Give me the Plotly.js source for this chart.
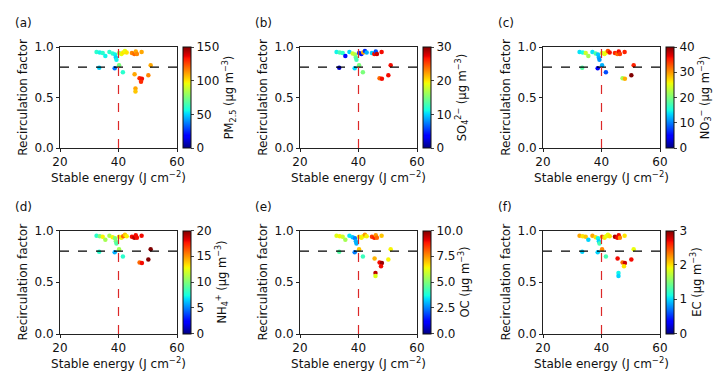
<!DOCTYPE html>
<html><head><meta charset="utf-8">
<script src="https://cdn.plot.ly/plotly-3.0.1.min.js"></script>
<style>html,body{margin:0;padding:0;background:#fff}#chart{width:725px;height:385px}</style>
</head><body><div id="chart"></div>
<script>
// Stable energy (J cm^-2) and recirculation factor for each day
const stableEnergy = [32.5,33.6,34.6,35.5,36.9,38.0,38.8,39.1,39.3,40.2,41.0,41.6,42.2,42.8,44.6,45.4,45.9,46.3,47.9,
  33.4,38.7,40.2,41.5,51.0,45.5,50.2,47.2,48.0,47.7,45.8,45.8];
const recircFactor = [0.95,0.945,0.94,0.91,0.95,0.935,0.925,0.895,0.875,0.94,0.93,0.945,0.96,0.945,0.94,0.93,0.955,0.93,0.95,
  0.795,0.79,0.82,0.75,0.82,0.73,0.72,0.69,0.685,0.655,0.59,0.56];
// Colour variables (µg m^-3); null = not available
const pm25 = [60,55,60,55,60,60,55,50,55,80,95,100,95,100,115,120,110,115,110,50,35,75,60,110,110,115,130,135,130,110,105];
const so4  = [11,13,12,4,10,18,17,14,13,5,4,22,5,9,10,27,6,28,27,2,10,15,15,27,null,27,24,27,null,null,null];
const no3  = [14,15,24,22,14,18,13,12,11,24,25,26,33,36,35,32,36,34,35,18,5,12,8,35,null,40,22,29,null,null,null];
const nh4  = [8,10,13,11,11,13,10,10,9,13,13,16,14,13,18,19,18,18,18,8,6,11,8,20,null,20,16,18,null,null,null];
const oc   = [6.2,6.5,6.0,5.5,3.5,3.2,2.5,3.0,3.0,6.5,6.5,6.5,7.5,6.5,8.5,8.8,7.5,8.0,7.0,4.5,2.5,7.0,4.2,6.5,7.2,6.5,9.0,9.8,9.0,9.5,6.2];
const ec   = [2.2,2.0,2.1,1.0,2.2,2.0,1.1,1.0,1.3,2.3,2.0,1.9,1.9,2.0,2.9,2.7,2.7,2.3,2.0,1.0,1.0,2.3,1.3,1.9,2.7,2.7,2.4,2.8,2.0,1.1,1.0];

const panelLabels = ['(a)','(b)','(c)','(d)','(e)','(f)'];
const colorTitles = ['PM<sub>2.5</sub> (μg m<sup>−3</sup>)','SO<sub>4</sub><sup>2−</sup> (μg m<sup>−3</sup>)',
  'NO<sub>3</sub><sup>−</sup> (μg m<sup>−3</sup>)','NH<sub>4</sub><sup>+</sup> (μg m<sup>−3</sup>)',
  'OC (μg m<sup>−3</sup>)','EC (μg m<sup>−3</sup>)'];
const colorMax = [150,30,40,20,10,3];
const colorTicks = [[0,50,100,150],[0,10,20,30],[0,10,20,30,40],[0,5,10,15,20],[0,2.5,5,7.5,10],[0,1,2,3]];
const colorTickText = [null,null,null,null,['0.0','2.5','5.0','7.5','10.0'],null];
const series = [pm25,so4,no3,nh4,oc,ec];
const rfThreshold = 0.8, seThreshold = 40;

const jet = [[0,'rgb(0,0,128)'],[0.11,'rgb(0,0,255)'],[0.125,'rgb(0,0,255)'],[0.34,'rgb(0,219,255)'],
  [0.375,'rgb(21,255,226)'],[0.5,'rgb(123,255,123)'],[0.64,'rgb(239,255,8)'],[0.66,'rgb(255,236,0)'],
  [0.89,'rgb(255,19,0)'],[0.91,'rgb(232,0,0)'],[1,'rgb(128,0,0)']];

const W=725,H=385;
const colL=[60,300,543], plotW=117;
const rowT=[47,230.5], plotH=[101,103.5];
const font={family:'DejaVu Sans, sans-serif',size:12,color:'#111'};
const sfont={family:'DejaVu Sans, sans-serif',size:11.5,color:'#111'};
const traces=[], layout={width:W,height:H,margin:{l:0,r:0,t:0,b:0},showlegend:false,
  paper_bgcolor:'#fff',plot_bgcolor:'#fff',font:font,shapes:[],annotations:[]};

for(let i=0;i<6;i++){
  const r=Math.floor(i/3), c=i%3, n=i+1;
  const xa='xaxis'+(n>1?n:''), ya='yaxis'+(n>1?n:'');
  const xr='x'+(n>1?n:''), yr='y'+(n>1?n:'');
  const x0=colL[c]/W, x1=(colL[c]+plotW)/W;
  const yTop=1-rowT[r]/H, yBot=1-(rowT[r]+plotH[r])/H;
  const xs=[],ys=[],cs=[];
  series[i].forEach((v,k)=>{ if(v!==null){xs.push(stableEnergy[k]);ys.push(recircFactor[k]);cs.push(v);} });
  traces.push({type:'scatter',mode:'markers',x:xs,y:ys,xaxis:xr,yaxis:yr,
    marker:{size:4.5,color:cs,cmin:0,cmax:colorMax[i],colorscale:jet,line:{width:0},
      colorbar:{x:(colL[c]+plotW+6)/W,xanchor:'left',y:yTop,yanchor:'top',len:plotH[r]/H,lenmode:'fraction',
        thickness:8,thicknessmode:'pixels',outlinewidth:1,outlinecolor:'#111',ticks:'outside',ticklen:3,
        tickvals:colorTicks[i],ticktext:colorTickText[i]||colorTicks[i].map(String),tickfont:font,xpad:0,ypad:0,
        title:{text:colorTitles[i],side:'right',font:sfont}}},
    hoverinfo:'skip'});
  layout[xa]={domain:[x0,x1],anchor:yr,range:[20,60],tickvals:[20,40,60],showgrid:false,zeroline:false,
    showline:true,linecolor:'#222',linewidth:1,mirror:true,ticks:'outside',ticklen:3,tickcolor:'#222',
    tickfont:font,title:{text:'Stable energy (J cm<sup>−2</sup>)',font:font,standoff:3}};
  layout[ya]={domain:[yBot,yTop],anchor:xr,range:[0,1],tickvals:[0,0.5,1],ticktext:['0.0','0.5','1.0'],
    showgrid:false,zeroline:false,showline:true,linecolor:'#222',linewidth:1,mirror:true,ticks:'outside',
    ticklen:3,tickcolor:'#222',tickfont:font,title:{text:'Recirculation factor',font:font,standoff:4}};
  layout.shapes.push({type:'line',xref:xr,yref:yr,x0:20,x1:60,y0:rfThreshold,y1:rfThreshold,
    line:{color:'#000',width:1.2,dash:'dash'}});
  layout.shapes.push({type:'line',xref:xr,yref:yr,x0:seThreshold,x1:seThreshold,y0:0,y1:1,
    line:{color:'rgb(220,40,40)',width:1.2,dash:'dash'}});
  layout.annotations.push({text:panelLabels[i],xref:'paper',yref:'paper',x:(colL[c]-47)/W,y:1-(rowT[r]-24)/H,
    xanchor:'left',yanchor:'middle',showarrow:false,font:font});
}
Plotly.newPlot('chart',traces,layout,{displayModeBar:false,staticPlot:true});
</script></body></html>
